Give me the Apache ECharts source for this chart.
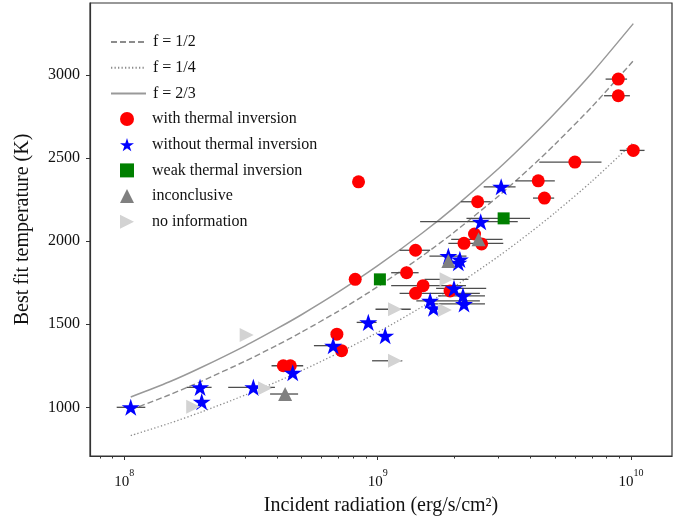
<!DOCTYPE html>
<html>
<head>
<meta charset="utf-8">
<script src="https://cdn.jsdelivr.net/npm/echarts@6/dist/echarts.min.js"></script>
<style>
html,body{margin:0;padding:0;background:#fff;}
#chart{width:692px;height:523px;}
</style>
</head>
<body>
<div id="chart"></div>
<script>
// ---- axis ranges / ticks ----
const xRange = [7.32e7, 1.45e10];
const yRange = [707, 3433];
const xMajorTicks = [1e8, 1e9, 1e10];
const xMinorTicks = [8e7, 9e7, 2e8, 3e8, 4e8, 5e8, 6e8, 7e8, 8e8, 9e8, 2e9, 3e9, 4e9, 5e9, 6e9, 7e9, 8e9, 9e9];
const yTicks = [1000, 1500, 2000, 2500, 3000];

// ---- model curves ----
const curveX   = [1.06e8, 1.5e8, 2e8, 3e8, 4e8, 5e8, 7e8, 1e9, 1.5e9, 2e9, 3e9, 4e9, 5e9, 7e9, 1.02e10];
const curveF12 = [985, 1074, 1155, 1278, 1373, 1452, 1579, 1726, 1911, 2053, 2272, 2442, 2582, 2808, 3085];
const curveF14 = [830, 903, 970, 1074, 1154, 1220, 1327, 1451, 1606, 1725, 1909, 2052, 2170, 2360, 2593];
const curveF23 = [1062, 1152, 1238, 1370, 1473, 1557, 1694, 1852, 2049, 2202, 2437, 2619, 2769, 3012, 3309];

// ---- with thermal inversion ----
const invX  = [8.9e9, 8.9e9, 1.02e10, 6.0e9, 4.3e9, 4.55e9, 8.4e8, 2.48e9, 2.41e9, 2.19e9, 2.57e9, 1.41e9, 8.15e8, 1.30e9, 1.51e9, 1.41e9, 1.93e9, 4.24e8, 4.52e8, 6.9e8, 7.2e8];
const invY  = [2975, 2875, 2546, 2476, 2363, 2259, 2357, 2237, 2043, 1987, 1983, 1945, 1770, 1810, 1732, 1686, 1700, 1250, 1250, 1440, 1341];
const invLo = [7.93e9, 7.82e9, 9.02e9, 4.34e9, 3.5e9, 4.1e9, null, 2.13e9, null, 1.9e9, null, 1.22e9, null, 1.13e9, 1.13e9, 1.22e9, null, 3.81e8, null, null, null];
const invHi = [9.64e9, 9.89e9, 1.13e10, 7.64e9, 5.0e9, 4.97e9, null, 2.79e9, null, 3.13e9, null, 1.61e9, null, 1.45e9, 2.23e9, 2.53e9, null, 5.08e8, null, null, null];

// ---- without thermal inversion ----
const noInvX  = [3.07e9, 2.55e9, 1.90e9, 2.11e9, 2.08e9, 2.0e9, 2.17e9, 2.19e9, 1.61e9, 1.66e9, 9.18e8, 1.07e9, 1.06e8, 1.99e8, 2.02e8, 3.23e8, 4.62e8, 6.67e8];
const noInvY  = [2327, 2117, 1910, 1890, 1870, 1716, 1671, 1622, 1641, 1596, 1511, 1431, 1000, 1120, 1034, 1120, 1208, 1371];
const noInvLo = [2.62e9, 1.47e9, 1.6e9, null, null, 1.7e9, 1.73e9, 1.61e9, 1.42e9, null, 8.26e8, null, 9.33e7, 1.76e8, null, 2.57e8, null, 5.6e8];
const noInvHi = [3.5e9, 3.57e9, 2.24e9, null, null, 2.68e9, 2.65e9, 2.65e9, 2.53e9, null, 9.9e8, null, 1.21e8, 2.21e8, null, 3.93e8, null, 6.98e8];

// ---- weak thermal inversion ----
const weakX  = [1.02e9, 3.14e9];
const weakY  = [1770, 2137];
const weakLo = [null, 2.24e9];
const weakHi = [null, 3.99e9];

// ---- inconclusive ----
const inconX  = [2.5e9, 1.9e9, 4.31e8];
const inconY  = [2011, 1880, 1080];
const inconLo = [1.95e9, null, 3.76e8];
const inconHi = [3.11e9, null, 4.85e8];

// ---- no information ----
const noInfoX  = [3.04e8, 1.87e8, 3.59e8, 1.17e9, 1.17e9, 1.84e9, 1.87e9];
const noInfoY  = [1435, 1004, 1114, 1590, 1280, 1585, 1770];
const noInfoLo = [null, null, null, 9.8e8, 9.5e8, null, 1.53e9];
const noInfoHi = [null, null, null, 1.35e9, 1.25e9, null, 2.28e9];

// ---- builders ----
const pts = (xs, ys) => xs.map((x, i) => [x, ys[i]]);
const errs = (los, his, ys) => {
  const out = [];
  los.forEach((lo, i) => { if (lo != null && his[i] != null) out.push([lo, his[i], ys[i]]); });
  return out;
};
const errData = [].concat(
  errs(invLo, invHi, invY), errs(noInvLo, noInvHi, noInvY), errs(weakLo, weakHi, weakY),
  errs(inconLo, inconHi, inconY), errs(noInfoLo, noInfoHi, noInfoY)
);

const STAR = 'path://M0,-1L0.2245,-0.309L0.9511,-0.309L0.3633,0.118L0.5878,0.809L0,0.382L-0.5878,0.809L-0.3633,0.118L-0.9511,-0.309L-0.2245,-0.309Z';
const RTRI = 'path://M0,0L2,1L0,2Z';
const FONT = '"Liberation Serif", "DejaVu Serif", serif';

const chart = echarts.init(document.getElementById('chart'), null, {renderer: 'canvas'});
const axisColor = '#333';
const legText = {fontFamily: FONT, fontSize: 16, color: '#111', lineHeight: 16};

const option = {
  animation: false,
  backgroundColor: '#fff',
  textStyle: {fontFamily: FONT, color: '#111'},
  grid: {left: 90, right: 20, top: 3, bottom: 67, show: true, borderColor: axisColor, borderWidth: 1.2, backgroundColor: 'transparent'},
  legend: [{
    orient: 'vertical', left: 105, top: 29,
    itemWidth: 35, itemHeight: 13, itemGap: 9.7,
    textStyle: Object.assign({padding: [0, 0, 0, 2]}, legText),
    data: [
      {name: 'f = 1/2', itemStyle: {opacity: 0}},
      {name: 'f = 1/4', itemStyle: {opacity: 0}},
      {name: 'f = 2/3', itemStyle: {opacity: 0}}
    ]
  }, {
    orient: 'vertical', left: 115, top: 106,
    itemWidth: 14, itemHeight: 14, itemGap: 9.7,
    textStyle: Object.assign({padding: [0, 0, 0, 13]}, legText),
    data: ['with thermal inversion', 'without thermal inversion', 'weak thermal inversion', 'inconclusive', 'no information']
  }],
  xAxis: [{
    type: 'log', logBase: 10, min: xRange[0], max: xRange[1],
    name: 'Incident radiation (erg/s/cm²)', nameLocation: 'middle', nameGap: 40,
    nameTextStyle: {fontFamily: FONT, fontSize: 20, color: '#111'},
    axisLine: {show: true, lineStyle: {color: axisColor, width: 1.2}},
    axisTick: {show: true, length: 4, customValues: xMajorTicks, lineStyle: {color: axisColor}},
    axisLabel: {
      customValues: xMajorTicks, margin: 12, color: '#111', fontFamily: FONT,
      formatter: v => '{b|10}{s|' + Math.round(Math.log10(v)) + '}',
      rich: {
        b: {fontFamily: FONT, fontSize: 15, color: '#111', verticalAlign: 'bottom', lineHeight: 22},
        s: {fontFamily: FONT, fontSize: 10, color: '#111', verticalAlign: 'top', lineHeight: 22}
      }
    },
    splitLine: {show: false}, minorTick: {show: false}
  }, {
    type: 'log', logBase: 10, min: xRange[0], max: xRange[1], position: 'bottom',
    axisLine: {show: false},
    axisTick: {show: true, length: 2.5, customValues: xMinorTicks, lineStyle: {color: axisColor}},
    axisLabel: {show: false},
    splitLine: {show: false}
  }],
  yAxis: [{
    type: 'value', min: yRange[0], max: yRange[1],
    name: 'Best fit temperature (K)', nameLocation: 'middle', nameGap: 57,
    nameTextStyle: {fontFamily: FONT, fontSize: 20, color: '#111'},
    axisLine: {show: true, lineStyle: {color: axisColor, width: 1.2}},
    axisTick: {show: true, length: 4, customValues: yTicks, lineStyle: {color: axisColor}},
    axisLabel: {customValues: yTicks, margin: 10, fontFamily: FONT, fontSize: 16, color: '#111', formatter: v => String(v)},
    splitLine: {show: false}
  }],
  series: [
    {name: 'f = 1/2', type: 'line', data: pts(curveX, curveF12), smooth: 0.25, symbol: 'circle', symbolSize: 0, showSymbol: false, z: 2,
     lineStyle: {color: '#8c8c8c', width: 1.4, type: [6, 3]}, itemStyle: {color: '#8c8c8c'}},
    {name: 'f = 1/4', type: 'line', data: pts(curveX, curveF14), smooth: 0.25, symbol: 'circle', symbolSize: 0, showSymbol: false, z: 2,
     lineStyle: {color: '#8c8c8c', width: 1.3, type: [1.3, 2.2]}, itemStyle: {color: '#8c8c8c'}},
    {name: 'f = 2/3', type: 'line', data: pts(curveX, curveF23), smooth: 0.25, symbol: 'circle', symbolSize: 0, showSymbol: false, z: 2,
     lineStyle: {color: '#999999', width: 1.5}, itemStyle: {color: '#999999'}},
    {type: 'custom', data: errData, z: 3, encode: {x: [0, 1], y: 2}, silent: true,
     renderItem: (params, api) => {
       const a = api.coord([api.value(0), api.value(2)]);
       const b = api.coord([api.value(1), api.value(2)]);
       return {type: 'line', shape: {x1: a[0], y1: a[1], x2: b[0], y2: b[1]}, style: {stroke: '#4d4d4d', lineWidth: 1.3}};
     }},
    {name: 'with thermal inversion', type: 'scatter', data: pts(invX, invY), symbol: 'circle', symbolSize: 13, symbolKeepAspect: true, z: 5,
     itemStyle: {color: '#ff0000', opacity: 1}},
    {name: 'without thermal inversion', type: 'scatter', data: pts(noInvX, noInvY), symbol: STAR, symbolSize: 18, symbolKeepAspect: true, z: 5,
     itemStyle: {color: '#0000ff', opacity: 1}},
    {name: 'weak thermal inversion', type: 'scatter', data: pts(weakX, weakY), symbol: 'rect', symbolSize: 12, symbolKeepAspect: true, z: 5,
     itemStyle: {color: '#008000', opacity: 1}},
    {name: 'inconclusive', type: 'scatter', data: pts(inconX, inconY), symbol: 'triangle', symbolSize: 14, symbolKeepAspect: true, z: 5,
     itemStyle: {color: '#808080', opacity: 1}},
    {name: 'no information', type: 'scatter', data: pts(noInfoX, noInfoY), symbol: RTRI, symbolSize: 14, symbolKeepAspect: true, z: 5,
     itemStyle: {color: '#d3d3d3', opacity: 1}}
  ]
};
chart.setOption(option);
</script>
</body>
</html>
